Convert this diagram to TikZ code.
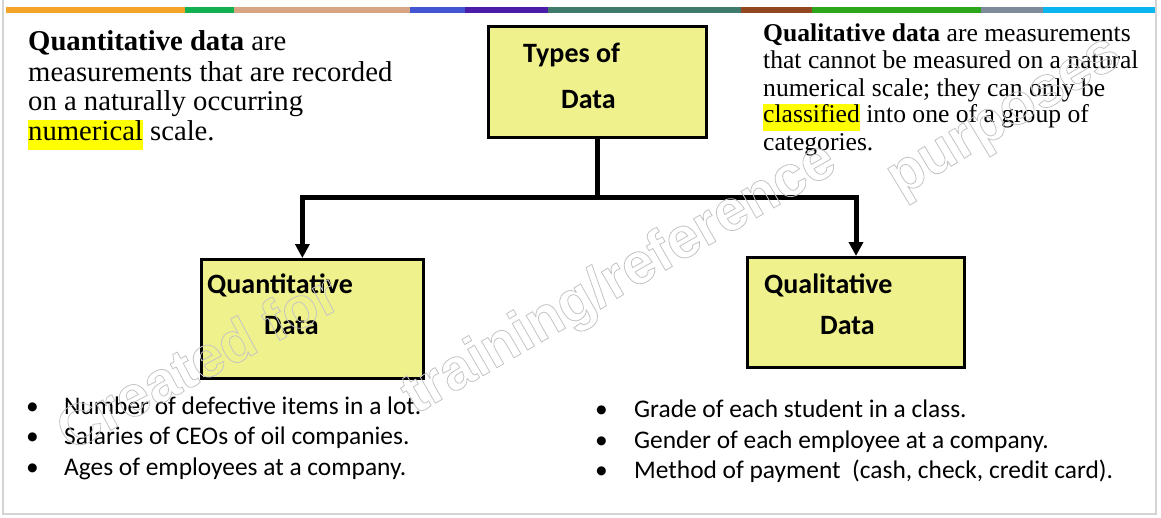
\documentclass[tikz,border=0pt]{standalone}
\usepackage{fontspec}
\usetikzlibrary{arrows.meta,calc}
\newfontfamily\serifface{Liberation Serif}
\newfontfamily\boxface{Carlito}
\newfontfamily\markface{Liberation Sans}

\definecolor{boxyellow}{HTML}{EFF18C}
\definecolor{marker}{HTML}{FFFF00}
\definecolor{framegray}{HTML}{D4D4D4}
\definecolor{wmgray}{HTML}{C4C4C4}
\definecolor{stA}{HTML}{F4A428}
\definecolor{stB}{HTML}{12B050}
\definecolor{stC}{HTML}{D8A584}
\definecolor{stD}{HTML}{4455D3}
\definecolor{stE}{HTML}{4B1CA8}
\definecolor{stF}{HTML}{3E7B6C}
\definecolor{stG}{HTML}{91471F}
\definecolor{stH}{HTML}{2EA61B}
\definecolor{stI}{HTML}{7D8B9B}
\definecolor{stJ}{HTML}{0BB5EF}

\newcommand{\hilite}[1]{{\setlength{\fboxsep}{0pt}\colorbox{marker}{\strut #1}}}
% hollow (stroked) letters for the watermark
\newcommand{\outlined}[1]{\special{pdf:literal direct 1 Tr 0.8 w}#1\special{pdf:literal direct 0 Tr}}

\tikzset{
  databox/.style={draw=black, line width=3pt, fill=boxyellow, inner sep=0pt},
  boxlabel/.style={font=\boxface\bfseries\fontsize{28}{30}\selectfont, anchor=base west, inner sep=0pt},
  bigline/.style={font=\serifface\fontsize{28.7}{30}\selectfont, anchor=base west, inner sep=0pt},
  smallline/.style={font=\serifface\fontsize{25.6}{27.3}\selectfont, anchor=base west, inner sep=0pt},
  itemtext/.style={font=\boxface\fontsize{25.4}{30}\selectfont, anchor=base west, inner sep=0pt},
  link/.style={line width=5pt, draw=black},
  arrowlink/.style={link, -{Triangle[length=14pt, width=14pt]}},
  watermark/.style={font=\markface\bfseries\fontsize{58}{62}\selectfont, anchor=base west, inner sep=0pt, text=wmgray}
}

\begin{document}
\begin{tikzpicture}[x=1pt, y=-1pt]
\useasboundingbox (0,0) rectangle (1161,517);
\fill[white] (0,0) rectangle (1161,517);

% slide frame
\draw[framegray, line width=1.5pt] (3,0) -- (3,514) -- (1156,514) -- (1156,0);

% coloured stripe along the top edge
\foreach \xa/\xb/\col in {6/185/stA, 185/234/stB, 234/410/stC, 410/465/stD, 465/548/stE,
  548/741/stF, 741/812/stG, 812/981/stH, 981/1043/stI, 1043/1155/stJ}
  \fill[\col] (\xa,7) rectangle (\xb,12.5);

% definition of quantitative data
\node[bigline] (qnA) at (28,50.7) {\textbf{Quantitative data} are};
\node[bigline] (qnB) at (28,81) {measurements that are recorded};
\node[bigline] (qnC) at (28,110.7) {on a naturally occurring};
\node[bigline] (qnD) at (28,140.7) {\hilite{numerical} scale.};

% definition of qualitative data
\node[smallline] (qlA) at (763,41) {\textbf{Qualitative data} are measurements};
\node[smallline] (qlB) at (763,68.3) {that cannot be measured on a natural};
\node[smallline] (qlC) at (763,96) {numerical scale; they can only be};
\node[smallline] (qlD) at (763,122.7) {\hilite{classified} into one of a group of};
\node[smallline] (qlE) at (763,150) {categories.};

% boxes
\node[databox, minimum width=218, minimum height=111] (types) at (597.5,82) {};
\node[databox, minimum width=222, minimum height=119] (quant) at (312.5,319) {};
\node[databox, minimum width=217, minimum height=110] (qual) at (856,312.5) {};

\node[boxlabel] (typesA) at (523,62) {Types of};
\node[boxlabel] (typesB) at (561,108) {Data};
\node[boxlabel] (quantA) at (207,293) {Quantitative};
\node[boxlabel] (quantB) at (264,334) {Data};
\node[boxlabel] (qualA) at (764,293) {Qualitative};
\node[boxlabel] (qualB) at (820,334) {Data};

% connectors
\coordinate (split) at (597.5,197);
\coordinate (quantin) at ($(quant.north west)!0.455!(quant.north east)$);
\draw[link] (types.south) -- (split);
\draw[arrowlink] (split) -| (quantin);
\draw[arrowlink] (split) -| (qual.north);

% examples
\foreach \yy/\txt [count=\i] in {414/Number of defective items in a lot.,
  444.5/Salaries of CEOs of oil companies., 475/Ages of employees at a company.} {
  \node[itemtext] (qb\i) at (26,\yy) {\textbullet};
  \node[itemtext] (qi\i) at (64,\yy) {\txt};
}
\foreach \yy/\txt [count=\i] in {417/Grade of each student in a class.,
  448/Gender of each employee at a company., 478/Method of payment\ \ (cash{,} check{,} credit card).} {
  \node[itemtext] (lb\i) at (595,\yy) {\textbullet};
  \node[itemtext] (li\i) at (634,\yy) {\txt};
}

% watermark
\node[watermark, rotate=28] (wmA) at (70,452) {\outlined{Created for}};
\node[watermark, rotate=30] (wmB) at (415,415) {\outlined{training/reference}};
\node[watermark, rotate=31] (wmC) at (900,197) {\outlined{purposes}};
\end{tikzpicture}
\end{document}
